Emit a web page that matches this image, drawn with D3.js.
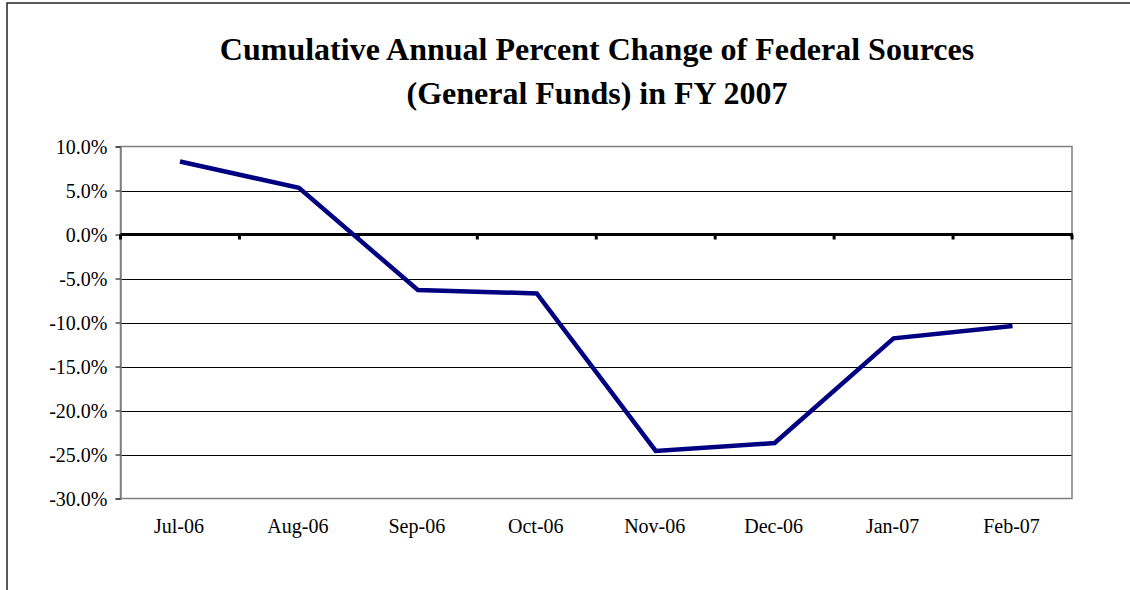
<!DOCTYPE html>
<html>
<head>
<meta charset="utf-8">
<script src="https://cdn.jsdelivr.net/npm/d3@7"></script>
<style>
  html, body { margin: 0; padding: 0; background: #fff; }
  svg { display: block; }
</style>
</head>
<body>
<svg id="chart" width="1130" height="590"></svg>
<script>
// Monthly cumulative annual percent change, FY 2007
const months = ["Jul-06", "Aug-06", "Sep-06", "Oct-06", "Nov-06", "Dec-06", "Jan-07", "Feb-07"];
const pctChange = [8.3, 5.3, -6.3, -6.7, -24.6, -23.7, -11.8, -10.4];
const yTicks = [10, 5, 0, -5, -10, -15, -20, -25, -30];
const titleLines = ["Cumulative Annual Percent Change of Federal Sources", "(General Funds) in FY 2007"];

const serif = "'Liberation Serif', 'Times New Roman', serif";
const svg = d3.select("#chart");
const plot = { left: 120.5, right: 1072, top: 146.5, bottom: 498.5 };

// Outer frame (top and left edges)
svg.append("path")
  .attr("d", "M7,590 L7,3 L1130,3")
  .attr("fill", "none").attr("stroke", "#222").attr("stroke-width", 1.5);

// Title
svg.append("text")
  .attr("text-anchor", "middle")
  .style("font-family", serif).style("font-weight", "bold").style("font-size", "32px")
  .selectAll("tspan").data(titleLines).join("tspan")
  .attr("x", 597).attr("y", (d, i) => 59.5 + i * 44.5).text(d => d);

const x = d3.scaleBand().domain(months).range([plot.left, plot.right]);
const y = d3.scaleLinear().domain([-30, 10]).range([plot.bottom, plot.top]);

// Horizontal gridlines
svg.append("g").selectAll("line")
  .data(yTicks.filter(v => v !== 10 && v !== -30 && v !== 0)).join("line")
  .attr("x1", plot.left).attr("x2", plot.right)
  .attr("y1", d => Math.round(y(d)) + 0.5).attr("y2", d => Math.round(y(d)) + 0.5)
  .attr("stroke", "#000").attr("stroke-width", 1);

// Plot border (gray)
svg.append("rect")
  .attr("x", plot.left).attr("y", plot.top)
  .attr("width", plot.right - plot.left).attr("height", plot.bottom - plot.top)
  .attr("fill", "none").attr("stroke", "#808080").attr("stroke-width", 1.5);

// Y axis
const yAxis = d3.axisLeft(y).tickValues(yTicks).tickSize(5).tickPadding(8)
  .tickFormat(d => (d < 0 ? "-" : "") + Math.abs(d).toFixed(1) + "%");
const gy = svg.append("g").attr("transform", `translate(${plot.left},0)`).call(yAxis)
  .attr("font-family", null).attr("font-size", null);
gy.select(".domain").attr("stroke", "#808080").attr("stroke-width", 1.5);
gy.selectAll(".tick line").attr("stroke", "#000");
gy.selectAll(".tick text")
  .style("font-family", serif).style("font-size", "20px").attr("fill", "#000")
  .attr("dy", "0.34em");

// Zero line with category boundary ticks
const zeroY = y(0);
svg.append("line")
  .attr("x1", plot.left).attr("x2", plot.right + 1)
  .attr("y1", zeroY).attr("y2", zeroY)
  .attr("stroke", "#000").attr("stroke-width", 3);
const bounds = months.map(m => x(m)).concat([plot.right]);
svg.append("g").selectAll("line").data(bounds).join("line")
  .attr("x1", d => d).attr("x2", d => d)
  .attr("y1", zeroY).attr("y2", zeroY + 5)
  .attr("stroke", "#000").attr("stroke-width", 3);

// X category labels
svg.append("g").selectAll("text").data(months).join("text")
  .attr("x", d => x(d) + x.bandwidth() / 2 - 1).attr("y", 533)
  .attr("text-anchor", "middle")
  .style("font-family", serif).style("font-size", "20px")
  .text(d => d);

// Series line
const line = d3.line()
  .x((d, i) => x(months[i]) + x.bandwidth() / 2)
  .y(d => y(d));
svg.append("path")
  .datum(pctChange)
  .attr("d", line)
  .attr("fill", "none").attr("stroke", "#000080")
  .attr("stroke-width", 4.5).attr("stroke-linejoin", "miter");
</script>
</body>
</html>
